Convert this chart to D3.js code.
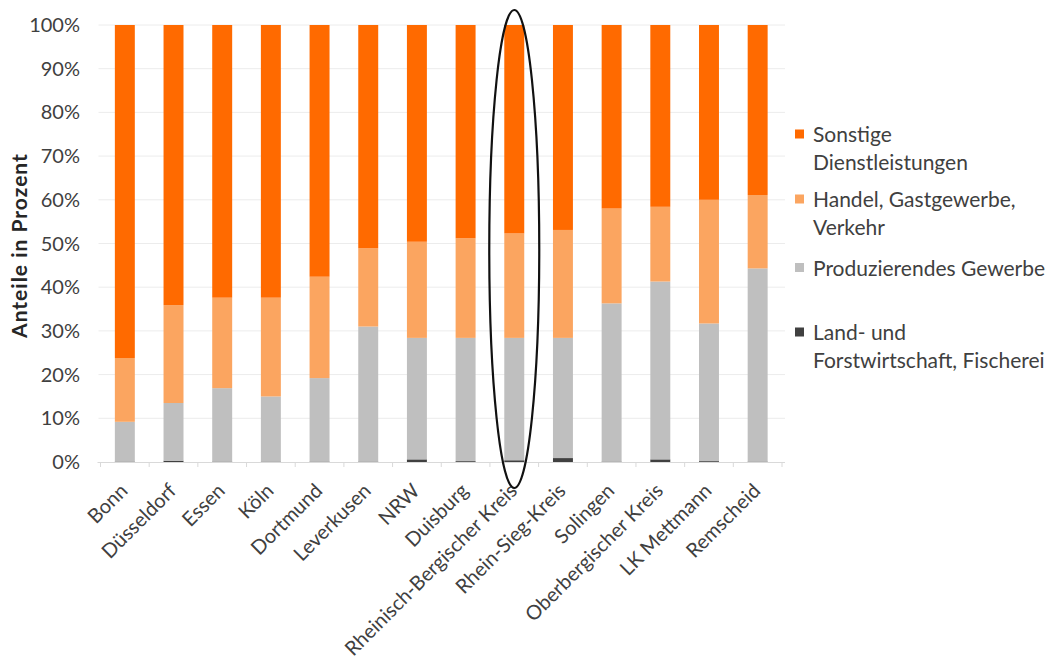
<!DOCTYPE html>
<html><head><meta charset="utf-8">
<script src="https://cdn.jsdelivr.net/npm/d3@7/dist/d3.min.js"></script>
<style>body{margin:0;background:#fff}svg{display:block}text{font-family:Lato,"Open Sans",sans-serif}</style>
</head><body><svg id="c" width="1055" height="668"></svg>
<script>
const categories = ["Bonn","Düsseldorf","Essen","Köln","Dortmund","Leverkusen","NRW","Duisburg","Rheinisch-Bergischer Kreis","Rhein-Sieg-Kreis","Solingen","Oberbergischer Kreis","LK Mettmann","Remscheid"];
const land     = [0.1,0.3,0.1,0.1,0.1,0.1,0.6,0.2,0.4,0.9,0.1,0.6,0.2,0.1];
const prod     = [9.1,13.2,16.8,14.9,19.1,30.9,27.8,28.2,28.0,27.5,36.2,40.7,31.5,44.2];
const handel   = [14.6,22.4,20.7,22.6,23.2,17.9,22.0,22.8,23.9,24.7,21.7,17.1,28.3,16.8];
const sonstige = [76.2,64.1,62.4,62.4,57.6,51.1,49.6,48.8,47.7,46.9,42.0,41.6,40.0,38.9];
const seriesNames = ["Land- und Forstwirtschaft, Fischerei","Produzierendes Gewerbe","Handel, Gastgewerbe, Verkehr","Sonstige Dienstleistungen"];
const yTicks = [0,10,20,30,40,50,60,70,80,90,100];
const highlighted = "Rheinisch-Bergischer Kreis";

const colors = ["#404040","#bfbfbf","#fba560","#ff6a00"];
const svg = d3.select("#c");
const L = 100.5, R = 782, T = 25, B = 462;
const x = d3.scaleBand().domain(categories).range([L, R]).paddingInner(0.59).paddingOuter(0.295);
const y = d3.scaleLinear().domain([0,100]).range([B, T]);

// gridlines
svg.append("g").selectAll("line").data(yTicks.filter(d=>d>0)).join("line")
  .attr("x1", L-2).attr("x2", R+3).attr("y1", d=>y(d)).attr("y2", d=>y(d))
  .attr("stroke", "#ececec").attr("stroke-width", 1);

// stacked data
const rows = categories.map((c,i)=>({cat:c, s0:land[i], s1:prod[i], s2:handel[i], s3:sonstige[i]}));
const stack = d3.stack().keys(["s0","s1","s2","s3"])(rows);
svg.append("g").selectAll("g").data(stack).join("g").attr("fill", (d,i)=>colors[i])
  .selectAll("rect").data(d=>d).join("rect")
  .attr("x", d=>x(d.data.cat)).attr("width", x.bandwidth())
  .attr("y", d=>y(d[1])).attr("height", d=>y(d[0])-y(d[1]));

// x axis
const xa = svg.append("g").attr("transform", `translate(0,${B})`)
  .call(d3.axisBottom(x).tickSize(0).tickFormat(""));
xa.select(".domain").attr("stroke", "#d9d9d9").attr("d", `M${L-3},0.5H${R+3}`);
const step = x.step();
svg.append("g").selectAll("line").data(d3.range(categories.length+1)).join("line")
  .attr("x1", i=>L + i*step).attr("x2", i=>L + i*step)
  .attr("y1", B).attr("y2", B+5).attr("stroke", "#d9d9d9");

svg.append("g").selectAll("text").data(categories).join("text")
  .attr("transform", d=>`translate(${x(d)+x.bandwidth()/2+4},${B+30}) rotate(-45)`)
  .attr("text-anchor","end").attr("font-size", 20).attr("fill","#404040").text(d=>d);

// y axis labels
svg.append("g").selectAll("text").data(yTicks).join("text")
  .attr("x", 80).attr("y", d=>y(d)+7)
  .attr("text-anchor","end").attr("font-size", 20).attr("fill","#404040").text(d=>d+"%");

svg.append("text").attr("transform", `translate(27,${(T+B)/2 + 2}) rotate(-90)`)
  .attr("text-anchor","middle").attr("font-size", 21).attr("letter-spacing", 1)
  .attr("font-weight","bold").attr("fill","#262626")
  .text("Anteile in Prozent");

// legend
const legend = [
  {i:3, lines:["Sonstige","Dienstleistungen"], y:134},
  {i:2, lines:["Handel, Gastgewerbe,","Verkehr"], y:199},
  {i:1, lines:["Produzierendes Gewerbe"], y:267.5},
  {i:0, lines:["Land- und","Forstwirtschaft, Fischerei"], y:332}
];
const lg = svg.append("g").selectAll("g").data(legend).join("g");
lg.append("rect").attr("x",795).attr("y",d=>d.y-4.5).attr("width",9).attr("height",9).attr("fill",d=>colors[d.i]);
lg.append("text").attr("transform", d=>`translate(813,${d.y+8})`)
  .attr("font-size", 21).attr("fill","#404040")
  .selectAll("tspan").data(d=>d.lines).join("tspan").attr("x",0).attr("dy",(d,j)=>j?28:0).text(d=>d);

// highlight ellipse
svg.append("ellipse").attr("cx", x(highlighted)+x.bandwidth()/2).attr("cy", 249)
  .attr("rx", 25).attr("ry", 239).attr("fill","none").attr("stroke","#111").attr("stroke-width",2.2);
</script></body></html>
